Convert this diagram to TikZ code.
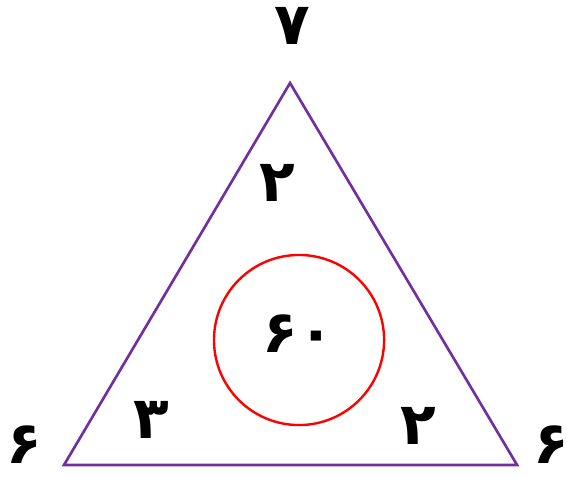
\documentclass[tikz,border=0pt]{standalone}
\usepackage{fontspec}
\usepackage{tikz}
\usetikzlibrary{positioning}
\usepackage{xcolor}
\newfontfamily\farsifont[Script=Arabic]{DejaVu Sans}
\TeXXeTstate=1
\definecolor{triviolet}{HTML}{7030A0}

\tikzset{
  num/.style={font=\farsifont\bfseries\fontsize{44}{44}\selectfont, inner sep=0pt}
}

\begin{document}
\begin{tikzpicture}[line join=miter]
  \useasboundingbox (0,0) rectangle (15,12.593);
  % triangle corners
  \coordinate (top) at (7.673,10.397);
  \coordinate (bl) at (1.693,0.291);
  \coordinate (br) at (13.680,0.291);
  \draw[triviolet, line width=2pt] (top) -- (bl) -- (br) -- cycle;
  \node[draw=red, line width=1.8pt, circle, minimum size=4.5cm, inner sep=0pt] (ring) at (7.911,3.598) {};
  % numbers
  \node[num] (ntop) at (7.726,11.905) {۷};
  \node[num] (nin) at (7.329,7.751) {۲};
  \node[num] (nmid) at (7.885,3.757) {۶۰};
  \node[num] (nleft) at (3.995,1.481) {۳};
  \node[num] (nright) at (11.060,1.323) {۲};
  \node[num] (oleft) at (0.65,0.82) {۶};
  \node[num] (oright) at (14.579,0.82) {۶};
\end{tikzpicture}
\end{document}
